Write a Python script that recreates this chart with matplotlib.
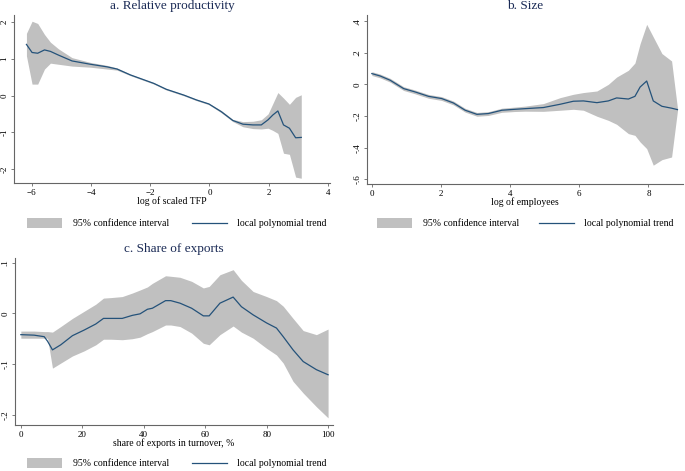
import matplotlib
matplotlib.use("Agg")
import matplotlib.pyplot as plt
from matplotlib.patches import Rectangle
from matplotlib.lines import Line2D

plt.rcParams['font.family'] = ['Liberation Serif', 'DejaVu Serif']

# a. relative productivity
tfp_x = [-6.18, -5.99, -5.80, -5.57, -5.37, -5.10, -4.64, -4.02, -3.46, -3.12, -2.67, -1.88, -1.46, -0.86,
         -0.44, -0.02, 0.40, 0.79, 1.13, 1.47, 1.75, 1.98, 2.14, 2.31, 2.50, 2.70, 2.91, 3.10]
tfp_y = [1.39, 1.17, 1.15, 1.24, 1.20, 1.10, 0.94, 0.85, 0.78, 0.72, 0.56, 0.33, 0.17, 0.01,
         -0.12, -0.23, -0.44, -0.68, -0.78, -0.80, -0.80, -0.66, -0.53, -0.42, -0.80, -0.89, -1.15, -1.14]
tfp_hi = [1.69, 2.02, 1.96, 1.66, 1.45, 1.27, 1.03, 0.90, 0.82, 0.75, 0.58, 0.35, 0.19, 0.03,
          -0.10, -0.21, -0.41, -0.65, -0.71, -0.70, -0.66, -0.50, -0.22, 0.08, -0.07, -0.24, -0.05, 0.02]
tfp_lo = [1.08, 0.31, 0.31, 0.72, 0.88, 0.85, 0.80, 0.77, 0.72, 0.69, 0.54, 0.31, 0.15, -0.01,
          -0.14, -0.25, -0.47, -0.71, -0.85, -0.90, -0.91, -0.89, -0.95, -1.03, -1.57, -1.60, -2.22, -2.25]

# b. size
emp_x = [0.0, 0.24, 0.53, 0.92, 1.25, 1.64, 2.02, 2.36, 2.70, 3.04, 3.37, 3.76, 4.14, 4.43, 4.96,
         5.45, 5.83, 6.12, 6.51, 6.84, 7.08, 7.42, 7.61, 7.76, 7.95, 8.14, 8.39, 8.67, 8.84]
emp_y = [0.069, 0.054, 0.027, -0.026, -0.047, -0.075, -0.089, -0.117, -0.163, -0.189, -0.184, -0.163,
         -0.157, -0.153, -0.146, -0.125, -0.106, -0.104, -0.115, -0.104, -0.085, -0.092, -0.075, -0.016,
         0.022, -0.104, -0.138, -0.150, -0.159]
emp_hi = [0.081, 0.066, 0.039, -0.014, -0.035, -0.063, -0.077, -0.105, -0.151, -0.177, -0.172, -0.150,
          -0.143, -0.137, -0.121, -0.083, -0.062, -0.051, -0.041, 0.001, 0.047, 0.090, 0.136, 0.259,
          0.381, 0.301, 0.196, 0.149, -0.150]
emp_lo = [0.057, 0.042, 0.015, -0.038, -0.059, -0.087, -0.101, -0.129, -0.175, -0.201, -0.196, -0.176,
          -0.171, -0.169, -0.170, -0.163, -0.157, -0.163, -0.201, -0.227, -0.252, -0.311, -0.322, -0.364,
          -0.406, -0.511, -0.476, -0.459, -0.166]

# c. share of exports
exp_x = [0, 4.3, 7.6, 8.7, 10.3, 13.0, 16.8, 20.6, 24.4, 26.9, 29.3, 33.0, 36.3, 38.8, 41.2, 42.8, 47.1,
         48.8, 51.8, 55.6, 59.4, 61.3, 64.8, 69.1, 71.8, 75.6, 80.0, 83.2, 85.4, 88.6, 91.9, 96.2, 100]
exp_y = [-0.042, -0.043, -0.046, -0.055, -0.072, -0.062, -0.044, -0.033, -0.021, -0.010, -0.010, -0.010,
         -0.004, -0.001, 0.008, 0.010, 0.025, 0.025, 0.020, 0.010, -0.005, -0.005, 0.020, 0.032, 0.013,
         -0.003, -0.019, -0.029, -0.046, -0.072, -0.095, -0.111, -0.121]
exp_hi = [-0.035, -0.035, -0.036, -0.036, -0.037, -0.026, -0.010, 0.004, 0.018, 0.030, 0.031, 0.033,
          0.040, 0.046, 0.052, 0.059, 0.074, 0.073, 0.071, 0.063, 0.050, 0.053, 0.076, 0.086, 0.065,
          0.043, 0.033, 0.025, 0.014, -0.010, -0.034, -0.042, -0.031]
exp_lo = [-0.049, -0.049, -0.049, -0.049, -0.108, -0.098, -0.084, -0.074, -0.062, -0.051, -0.051, -0.052,
          -0.050, -0.047, -0.040, -0.036, -0.023, -0.023, -0.026, -0.039, -0.059, -0.062, -0.042, -0.025,
          -0.037, -0.049, -0.069, -0.082, -0.098, -0.134, -0.157, -0.184, -0.206]

BAND = "#c0c0c0"
LINE = "#24527a"
TITLE = "#1a2a55"
W, H = 685, 471


def fx(px):
    return px / W


def fy(py):
    return 1 - py / H


# one panel: band, trend, axes styling
def plotpanel(ax, x, y, lo, hi, title, xlabel, xticks, yticks, yticklabels, xlim, ylim):
    ax.fill_between(x, lo, hi, color=BAND, linewidth=0)
    ax.plot(x, y, color=LINE, linewidth=0.9)
    ax.set_xlim(xlim)
    ax.set_ylim(ylim)
    ax.set_xticks(xticks)
    ax.set_yticks(yticks)
    ax.set_yticklabels(yticklabels, rotation=90, va="center")
    for s in ["top", "right"]:
        ax.spines[s].set_visible(False)
    for s in ["left", "bottom"]:
        ax.spines[s].set_color("#666666")
        ax.spines[s].set_linewidth(0.8)
    ax.tick_params(labelsize=6.5, length=2.5, width=0.6, color="#666666", pad=1.5)
    ax.set_title(title, fontsize=9.5, color=TITLE, pad=4)
    ax.set_xlabel(xlabel, fontsize=7, labelpad=0)


# legend drawn under each panel
def drawlegend(fig, x0, xline, ymid):
    fig.add_artist(Rectangle((fx(x0), fy(ymid + 5)), fx(35), 10 / H, color=BAND, linewidth=0))
    fig.text(fx(x0 + 46), fy(ymid), "95% confidence interval", fontsize=7, va="center")
    fig.add_artist(Line2D([fx(xline), fx(xline + 35)], [fy(ymid), fy(ymid)], color=LINE, linewidth=0.9))
    fig.text(fx(xline + 45), fy(ymid), "local polynomial trend", fontsize=7, va="center")


fig = plt.figure(figsize=(6.85, 4.71), dpi=100)

ax1 = fig.add_axes([fx(14), fy(183), fx(330 - 14), (183 - 15) / H])
plotpanel(ax1, tfp_x, tfp_y, tfp_lo, tfp_hi, "a. Relative productivity", "log of scaled TFP",
          [-6, -4, -2, 0, 2, 4], [-2, -1, 0, 1, 2], ["-2", "-1", "0", "1", "2"],
          (-6.6, 4.07), (-2.38, 2.19))
drawlegend(fig, 27, 192, 223)

ax2 = fig.add_axes([fx(367), fy(184), fx(683 - 367), (184 - 15) / H])
plotpanel(ax2, emp_x, emp_y, emp_lo, emp_hi, "b. Size", "log of employees",
          [0, 2, 4, 6, 8], [-0.6, -0.4, -0.2, 0, 0.2, 0.4], ["-.6", "-.4", "-.2", "0", ".2", ".4"],
          (-0.14, 9.0), (-0.63, 0.44))
drawlegend(fig, 377, 539, 223)

ax3 = fig.add_axes([fx(15), fy(425), fx(333 - 15), (425 - 258) / H])
plotpanel(ax3, exp_x, exp_y, exp_lo, exp_hi, "c. Share of exports", "share of exports in turnover, %",
          [0, 20, 40, 60, 80, 100], [-0.2, -0.1, 0, 0.1], ["-.2", "-.1", "0", ".1"],
          (-1.9, 101.6), (-0.22, 0.109))
drawlegend(fig, 27, 192, 463)

plt.savefig("out.png", dpi=100)
plt.close()
